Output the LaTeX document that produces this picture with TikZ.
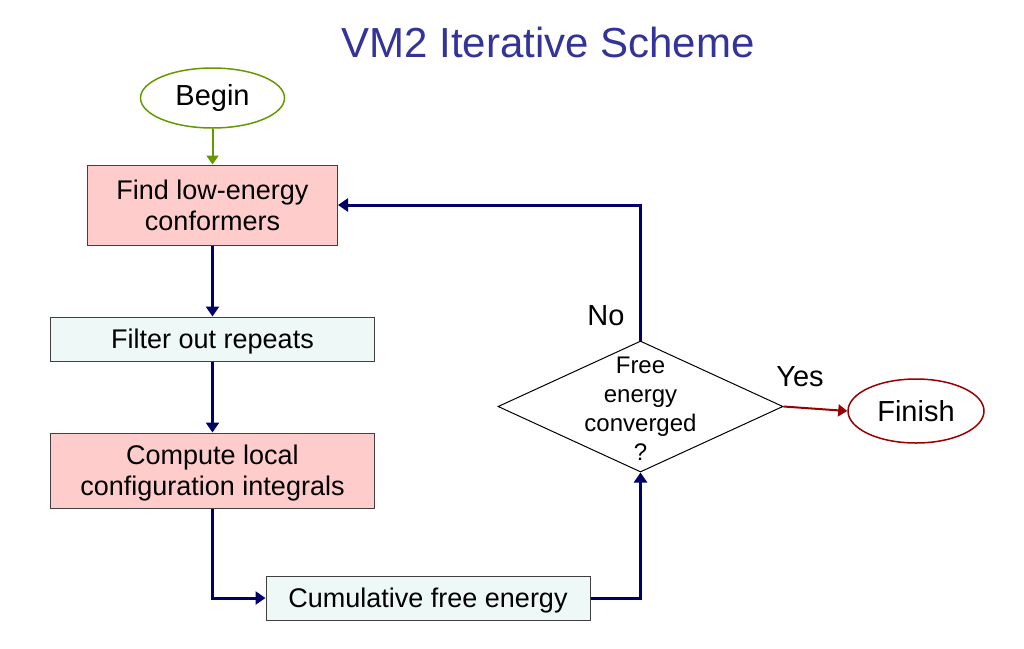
\documentclass[tikz,border=0pt]{standalone}
\usepackage{fontspec}
\setmainfont{Liberation Sans}
\usetikzlibrary{shapes.geometric,arrows.meta}
\definecolor{navy}{HTML}{000066}
\definecolor{titleblue}{HTML}{333399}
\definecolor{begingreen}{HTML}{669900}
\definecolor{finishred}{HTML}{990000}
\definecolor{pinkfill}{HTML}{FFCCCC}
\definecolor{palefill}{HTML}{EEF8F6}
\definecolor{boxborder}{HTML}{404040}
\tikzset{
  pinkbox/.style={draw=boxborder, line width=1pt, fill=pinkfill, align=center, inner sep=0pt,
    font=\fontsize{27}{31}\selectfont},
  palebox/.style={draw=boxborder, line width=1pt, fill=palefill, align=center, inner sep=0pt,
    font=\fontsize{27}{31}\selectfont, text depth=0pt},
  flow/.style={draw=navy, line width=3pt, -{Triangle[length=10pt,width=13pt]}},
  lbl/.style={font=\fontsize{29}{32}\selectfont, inner sep=0pt},
}
\begin{document}
\begin{tikzpicture}[x=1pt,y=-1pt]
\useasboundingbox (0,0) rectangle (1024,648);
\fill[white] (0,0) rectangle (1024,648);
\node[text=titleblue, font=\fontsize{42}{46}\selectfont] (title) at (548,42) {VM2 Iterative Scheme};
\node[ellipse, draw=begingreen, line width=1.5pt, minimum width=144pt, minimum height=60pt, inner sep=0pt,
  font=\fontsize{29}{32}\selectfont] (begin) at (212.5,98) {Begin};
\node[pinkbox, minimum width=250pt, minimum height=80pt] (find) at (212.5,205) {Find low-energy\\conformers};
\node[palebox, minimum width=324pt, minimum height=44pt] (filter) at (212.5,339) {Filter out repeats};
\node[pinkbox, text depth=0pt, minimum width=324pt, minimum height=75pt] (compute) at (212.5,470.5) {Compute local\\configuration integrals};
\node[palebox, minimum width=324pt, minimum height=44pt] (cumul) at (428,598) {Cumulative free energy};
\node[diamond, draw=black, line width=1pt, minimum width=285pt, minimum height=131pt, inner sep=0pt] (dec) at (640.5,406.5) {};
\node[align=center, inner sep=0pt, font=\fontsize{24}{29}\selectfont, yshift=-2pt] (dectext) at (dec.center) {Free\\energy\\converged\\?};
\node[ellipse, draw=finishred, line width=1.5pt, minimum width=136pt, minimum height=64pt, inner sep=0pt,
  font=\fontsize{29}{32}\selectfont] (finish) at (916,411) {Finish};
\node[lbl] (no) at (606,316) {No};
\node[lbl] (yes) at (800,377) {Yes};
\draw[draw=begingreen, line width=2pt, -{Triangle[length=9pt,width=12pt]}] (begin.south) -- (find.north);
\draw[flow] (find.south) -- (filter.north);
\draw[flow] (filter.south) -- (compute.north);
\draw[flow] (compute.south) |- (cumul.west);
\draw[flow] (cumul.east) -| (dec.south);
\draw[flow] (dec.north) |- (find.east);
\draw[draw=finishred, line width=2pt, -{Triangle[length=9pt,width=12pt]}] (dec.east) -- (finish.west);
\end{tikzpicture}
\end{document}
